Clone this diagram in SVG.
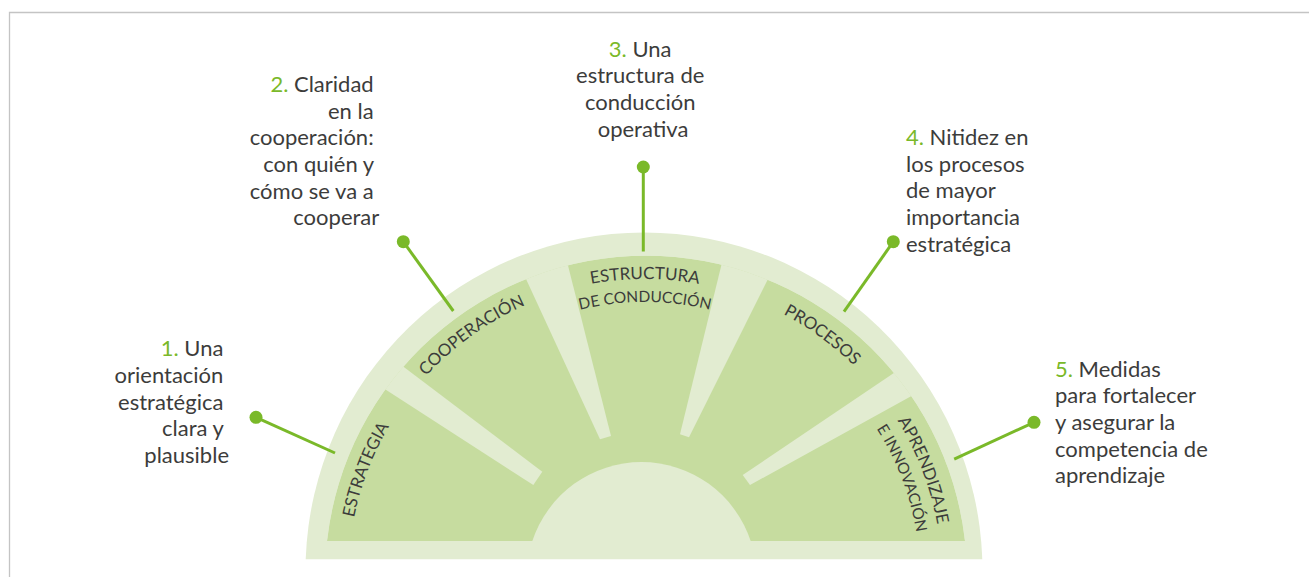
<svg xmlns="http://www.w3.org/2000/svg" width="1309" height="577" viewBox="0 0 1309 577">
<style>
.light{fill:#e2ecd1}
.band{fill:#c6dc9f}
.frame{stroke:#c4c4c4;stroke-width:1.3;fill:none}
.conn{stroke:#7ab929;stroke-width:3;fill:none}
.dot{fill:#7ab929}
.txt{font-family:Lato,"Noto Sans",sans-serif;font-size:22px;fill:#3c3c3b}
.num{fill:#7ab929}
.seg{font-family:Lato,"Noto Sans",sans-serif;font-size:17px;fill:#3c3c3b}
.seg2{font-family:Lato,"Noto Sans",sans-serif;font-size:15.5px;fill:#3c3c3b}
</style>
<defs>
<clipPath id="bandClip"><path d="M327,541 A321,321 0 0 1 965,541 Z"/></clipPath>
<path id="arcEstrategia" d="M351.7,623.5 A297,297 0 0 1 458.1,346.2"/>
<path id="arcCooperacion" d="M374.5,454.3 A297,297 0 0 1 616,281.4"/>
<path id="arcEstructura" d="M496,318.9 A298,298 0 0 1 794,318.9"/>
<path id="arcConduccion" d="M507.5,338.8 A275,275 0 0 1 782.5,338.8"/>
<path id="arcProcesos" d="M677.1,281.7 A297,297 0 0 1 916.8,457.2"/>
<path id="arcAprendizaje" d="M831.9,346.2 A297,297 0 0 1 938.3,623.5"/>
<path id="arcInnovacion" d="M818.1,363.3 A275,275 0 0 1 916.6,620"/>
</defs>

<g id="frame">
<path class="frame" d="M9.5,577 V12.5 H1309"/>
</g>

<g id="wheel">
<path class="light" d="M305.7,559.3 A338.5,338.5 0 0 1 982.3,559.3 Z"/>
<g clip-path="url(#bandClip)">
<path class="band" d="M327,541 A321,321 0 0 1 965,541 Z"/>
<polygon class="light" points="346.4,364.3 533.3,485 542.3,471.7 371.4,342.6"/>
<polygon class="light" points="508.2,240.4 600,439.3 611,436 558.5,227.9"/>
<polygon class="light" points="730.5,227.8 680,434.3 689,437.3 786.2,242.5"/>
<polygon class="light" points="927.2,350.6 742.7,475 750,485 950,374.7"/>
</g>
<path class="light" d="M532.3,541 A115,115 0 0 1 750.7,541 Z"/>
</g>

<g id="seg-estrategia">
<text class="seg"><textPath href="#arcEstrategia" startOffset="50%" text-anchor="middle">ESTRATEGIA</textPath></text>
</g>
<g id="seg-cooperacion">
<text class="seg"><textPath href="#arcCooperacion" startOffset="50%" text-anchor="middle">COOPERACIÓN</textPath></text>
</g>
<g id="seg-estructura">
<text class="seg"><textPath href="#arcEstructura" startOffset="50%" text-anchor="middle">ESTRUCTURA</textPath></text>
<text class="seg2"><textPath href="#arcConduccion" startOffset="50%" text-anchor="middle">DE CONDUCCIÓN</textPath></text>
</g>
<g id="seg-procesos">
<text class="seg"><textPath href="#arcProcesos" startOffset="50%" text-anchor="middle">PROCESOS</textPath></text>
</g>
<g id="seg-aprendizaje">
<text class="seg"><textPath href="#arcAprendizaje" startOffset="50%" text-anchor="middle">APRENDIZAJE</textPath></text>
<text class="seg2"><textPath href="#arcInnovacion" startOffset="50%" text-anchor="middle">E INNOVACIÓN</textPath></text>
</g>

<g id="connectors">
<line class="conn" x1="256" y1="417.3" x2="335" y2="453"/>
<circle class="dot" cx="256" cy="417.3" r="6.5"/>
<line class="conn" x1="403.3" y1="241.7" x2="453.3" y2="311"/>
<circle class="dot" cx="403.3" cy="241.7" r="6.5"/>
<line class="conn" x1="643.3" y1="167" x2="643.3" y2="251.5"/>
<circle class="dot" cx="643.3" cy="167" r="6.5"/>
<line class="conn" x1="893.3" y1="241.7" x2="844" y2="311.7"/>
<circle class="dot" cx="893.3" cy="241.7" r="6.5"/>
<line class="conn" x1="1034" y1="422.3" x2="954.2" y2="459.2"/>
<circle class="dot" cx="1034" cy="422.3" r="6.5"/>
</g>

<g id="label-1">
<text class="txt" text-anchor="end">
<tspan x="229" y="356.3"><tspan class="num">1.</tspan> Una</tspan>
<tspan x="229" y="383">orientación</tspan>
<tspan x="229" y="409.7">estratégica</tspan>
<tspan x="229" y="436.3">clara y</tspan>
<tspan x="229" y="463">plausible</tspan>
</text>
</g>
<g id="label-2">
<text class="txt" text-anchor="end">
<tspan x="379.3" y="92"><tspan class="num">2.</tspan> Claridad</tspan>
<tspan x="379.3" y="118.7">en la</tspan>
<tspan x="379.3" y="145.3">cooperación:</tspan>
<tspan x="379.3" y="172">con quién y</tspan>
<tspan x="379.3" y="198.7">cómo se va a</tspan>
<tspan x="379.3" y="225.3">cooperar</tspan>
</text>
</g>
<g id="label-3">
<text class="txt" text-anchor="middle">
<tspan x="643" y="56.5"><tspan class="num">3.</tspan> Una</tspan>
<tspan x="643" y="83.2">estructura de</tspan>
<tspan x="643" y="109.9">conducción</tspan>
<tspan x="643" y="136.6">operativa</tspan>
</text>
</g>
<g id="label-4">
<text class="txt">
<tspan x="906" y="145"><tspan class="num">4.</tspan> Nitidez en</tspan>
<tspan x="906" y="171.7">los procesos</tspan>
<tspan x="906" y="198.3">de mayor</tspan>
<tspan x="906" y="225">importancia</tspan>
<tspan x="906" y="251.7">estratégica</tspan>
</text>
</g>
<g id="label-5">
<text class="txt">
<tspan x="1055" y="376.7"><tspan class="num">5.</tspan> Medidas</tspan>
<tspan x="1055" y="403.3">para fortalecer</tspan>
<tspan x="1055" y="430">y asegurar la</tspan>
<tspan x="1055" y="456.7">competencia de</tspan>
<tspan x="1055" y="483.3">aprendizaje</tspan>
</text>
</g>
</svg>
